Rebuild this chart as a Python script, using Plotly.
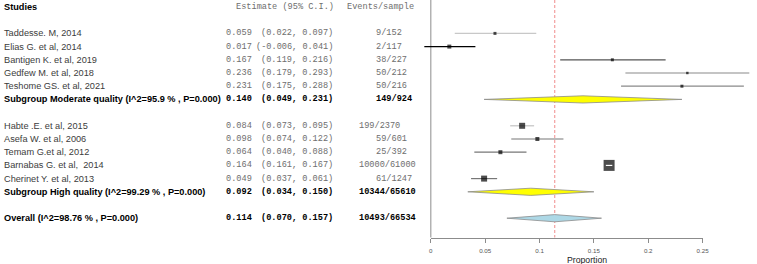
import plotly.graph_objects as go

# ---------------- data ----------------
mod_names = ["Taddesse. M, 2014", "Elias G. et al, 2014", "Bantigen K. et al, 2019",
             "Gedfew M. et al, 2018", "Teshome GS. et al, 2021"]
mod_est = [0.059, 0.017, 0.167, 0.236, 0.231]
mod_lo = [0.022, -0.006, 0.119, 0.179, 0.175]
mod_hi = [0.097, 0.041, 0.216, 0.293, 0.288]
mod_events = ["9/152", "2/117", "38/227", "50/212", "50/216"]
mod_weight = [9, 16, 9, 6, 9]

high_names = ["Habte .E. et al, 2015", "Asefa W. et al, 2006", "Temam G.et al, 2012",
              "Barnabas G. et al,\u00a0 2014", "Cherinet Y. et al, 2013"]
high_est = [0.084, 0.098, 0.064, 0.164, 0.049]
high_lo = [0.073, 0.074, 0.040, 0.161, 0.037]
high_hi = [0.095, 0.122, 0.088, 0.167, 0.061]
high_events = ["199/2370", "59/601", "25/392", "10000/61000", "61/1247"]
high_weight = [36, 16, 16, 121, 36]

sum_names = ["Subgroup Moderate quality (I^2=95.9 % , P=0.000)",
             "Subgroup High quality (I^2=99.29 % , P=0.000)",
             "Overall (I^2=98.76 % , P=0.000)"]
sum_est = [0.140, 0.092, 0.114]
sum_lo = [0.049, 0.034, 0.070]
sum_hi = [0.231, 0.150, 0.157]
sum_events = ["149/924", "10344/65610", "10493/66534"]

tick_vals = [0, 0.05, 0.1, 0.15, 0.2, 0.25]
tick_text = ["0", "0.05", "0.1", "0.15", "0.2", "0.25"]

# ---------------- layout constants ----------------
W, H = 757, 264
PX0 = 434.0      # pixel position of proportion 0
PXU = 1100.0     # pixels per unit of proportion
ROW0, ROWH = 7.0, 13.2
AXIS_PX = 237.5

def prow(px):
    return (px - ROW0) / ROWH

xr = [-PX0 / PXU, (W - PX0) / PXU]
yr = [prow(H), prow(0)]

mod_colors = ["#c8c8c8", "#000000", "#555555", "#8a8a8a", "#8a8a8a"]
high_colors = ["#c2c2c2", "#777777", "#777777", "#777777", "#777777"]
sum_fill = ["#ffff00", "#ffff00", "#add8e6"]

# assemble study rows
studies = []
r = 2
for n, e, lo, hi, ev, w, c in zip(mod_names, mod_est, mod_lo, mod_hi, mod_events, mod_weight, mod_colors):
    studies.append((r, n, e, lo, hi, ev, w, c)); r += 1
sum_rows = [r]; r += 2
for n, e, lo, hi, ev, w, c in zip(high_names, high_est, high_lo, high_hi, high_events, high_weight, high_colors):
    studies.append((r, n, e, lo, hi, ev, w, c)); r += 1
sum_rows.append(r); r += 2
sum_rows.append(r)

fig = go.Figure()
MONO = "Liberation Mono"
SANS = "Liberation Sans"
anns = []

def txt(px, row, s, anchor="left", size=8.6, fam=MONO, color="#6e6e6e", bold=False):
    if bold:
        s = "<b>" + s + "</b>"
    anns.append(dict(x=px / W, xref="paper", y=row, yref="y", text=s, showarrow=False,
                     xanchor=anchor, yanchor="middle", font=dict(family=fam, size=size, color=color)))

def events_left(s):
    return 359.3 if len(s) >= 8 else 376.0

# header
txt(0, 0, "Studies", fam=SANS, size=9.2, color="#000000", bold=True)
txt(235, 0, "Estimate (95% C.I.)")
txt(347, 0, "Events/sample")

# study rows
for row, n, e, lo, hi, ev, w, c in studies:
    fig.add_trace(go.Scatter(x=[lo, hi], y=[row, row], mode="lines",
                             line=dict(color=c, width=1.2), hoverinfo="skip", showlegend=False))
    txt(0, row, n, fam=SANS, size=9.2, color="#3c3c3c")
    txt(225, row, f"{e:.3f}")
    txt(337.5, row, f"({lo:.3f}, {hi:.3f})", anchor="right")
    txt(events_left(ev), row, ev)

sizes = [1.0 * (w ** 0.5) for (_, _, _, _, _, _, w, _) in studies]
fig.add_trace(go.Scatter(x=[s[2] for s in studies], y=[s[0] for s in studies], mode="markers",
                         marker=dict(symbol="square", size=sizes, color="#000000", line=dict(width=0)),
                         hoverinfo="skip", showlegend=False))
# CI inside the box drawn in white
for (row, n, e, lo, hi, ev, w, c), sz in zip(studies, sizes):
    if (hi - lo) * PXU < sz:
        fig.add_trace(go.Scatter(x=[lo, hi], y=[row, row], mode="lines",
                                 line=dict(color="#ffffff", width=1.2), hoverinfo="skip", showlegend=False))

# summary diamonds
hh = 3.6 / ROWH
for row, n, e, lo, hi, ev, f in zip(sum_rows, sum_names, sum_est, sum_lo, sum_hi, sum_events, sum_fill):
    fig.add_trace(go.Scatter(x=[lo, e, hi, e, lo], y=[row, row - hh, row, row + hh, row],
                             mode="lines", fill="toself", fillcolor=f,
                             line=dict(color="#8c8c8c", width=0.8), hoverinfo="skip", showlegend=False))
    txt(0, row, n, fam=SANS, size=9.2, color="#000000", bold=True)
    txt(225, row, f"{e:.3f}", color="#000000", bold=True)
    txt(337.5, row, f"({lo:.3f}, {hi:.3f})", anchor="right", color="#000000", bold=True)
    txt(events_left(ev), row, ev, color="#000000", bold=True)

# reference line at overall estimate and left axis line
axis_row = prow(AXIS_PX)
shapes = [
    dict(type="line", xref="x", yref="y", x0=sum_est[2], x1=sum_est[2], y0=yr[1], y1=axis_row,
         line=dict(color="#f08c8c", width=1, dash="3px,2px"), layer="below"),
    dict(type="line", xref="x", yref="y", x0=0, x1=0, y0=yr[1], y1=axis_row,
         line=dict(color="#8c8c8c", width=1), layer="below"),
]

# x-axis title
anns.append(dict(x=591.7 / W, xref="paper", y=prow(259.5), yref="y", text="Proportion",
                 showarrow=False, xanchor="center", yanchor="middle",
                 font=dict(family=SANS, size=8.7, color="#222222")))

# dummy trace to activate proportion axis
fig.add_trace(go.Scatter(x=[0.1], y=[yr[0] + 50], xaxis="x2", yaxis="y", mode="markers",
                         marker=dict(opacity=0), hoverinfo="skip", showlegend=False))

fig.update_layout(
    width=W, height=H, margin=dict(l=0, r=0, t=0, b=0),
    paper_bgcolor="white", plot_bgcolor="rgba(0,0,0,0)",
    xaxis=dict(range=xr, domain=[0, 1], visible=False, fixedrange=True),
    xaxis2=dict(range=[0, 0.25], domain=[PX0 / W, (PX0 + 0.25 * PXU) / W], anchor="free",
                position=(H - AXIS_PX) / H, showline=True, linecolor="#8c8c8c",
                linewidth=1, ticks="outside", ticklen=4, tickcolor="#8c8c8c", tickwidth=1,
                ticklabelstandoff=3,
                tickvals=tick_vals, ticktext=tick_text, showgrid=False, zeroline=False,
                tickfont=dict(family=SANS, size=6.2, color="#555555"), fixedrange=True),
    yaxis=dict(range=yr, domain=[0, 1], visible=False, fixedrange=True),
    shapes=shapes, annotations=anns, showlegend=False,
)

fig.write_html("out.html")
